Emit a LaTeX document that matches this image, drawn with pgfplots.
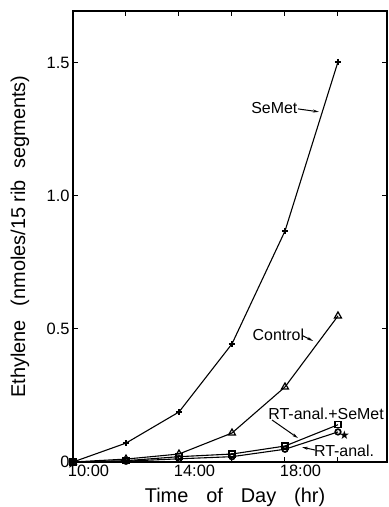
\documentclass[border=0pt]{standalone}
\usepackage{fontspec}
\setmainfont{Liberation Sans}
\newfontfamily\dejavu{DejaVu Sans}
\usepackage{pgfplots}
\pgfplotsset{compat=1.18}
\usetikzlibrary{arrows.meta}
\begin{document}
\begin{tikzpicture}
\path[use as bounding box] (0,0) rectangle (389bp,507bp);
\begin{axis}[
  at={(73bp,45bp)}, anchor=south west,
  scale only axis, width=314bp, height=451bp,
  xmin=10, xmax=21.85, ymin=0, ymax=1.695,
  xtick={10,12,14,16,18,20}, xticklabels={10:00,,14:00,,18:00,},
  ytick={0,0.5,1.0,1.5}, yticklabels={0,0.5,1.0,1.5},
  tick align=inside, major tick length=5bp,
  axis line style={line width=1.3bp},
  tick style={line width=1bp, black},
  ticklabel style={font=\fontsize{16.5}{18}\selectfont},
  xticklabel style={xshift=15.5bp},
  /pgf/number format/assume math mode=true,
  xlabel={Time\hspace{0.9em}of\hspace{0.9em}Day\hspace{0.9em}(hr)},
  ylabel={Ethylene\hspace{0.7em}(nmoles/15 rib\hspace{0.3em} segments)},
  label style={font=\fontsize{20}{22}\selectfont},
  xlabel style={at={(axis description cs:0.516,-0.078)}, anchor=center},
  ylabel style={at={(axis description cs:-0.169,0.5)}, anchor=center},
  every axis plot/.append style={black, line width=1.1bp},
]
\addplot[mark=+, mark size=3bp, mark options={line width=1.4bp}] coordinates {
  (10,0) (12,0.071) (14,0.188) (16,0.444) (18,0.868) (20,1.504)};
\addplot[mark=triangle, mark size=4bp, mark options={line width=1.2bp, fill=white}] coordinates {
  (10,0) (12,0.011) (14,0.03) (16,0.109) (18,0.282) (20,0.549)};
\addplot[mark=square, mark size=3bp, mark options={line width=1.2bp, fill=white}] coordinates {
  (10,0) (12,0.005) (14,0.02) (16,0.03) (18,0.06) (20,0.14)};
\addplot[mark=o, mark size=2.8bp, mark options={line width=1.7bp, fill=white}] coordinates {
  (10,0) (12,0.003) (14,0.012) (16,0.02) (18,0.048) (20,0.113)};
\addplot[only marks, mark=text, text mark={\fontsize{12}{12}\selectfont\dejavu ★}] coordinates {(20.25,0.100)};

\begin{scope}[font=\fontsize{16}{18}\selectfont]
\node at (axis cs:17.60,1.331) {SeMet};
\draw[-{Stealth[length=6bp,width=3bp]}, line width=1bp] (axis cs:18.49,1.327) -- (axis cs:19.28,1.316);
\node at (axis cs:17.75,0.477) {Control};
\draw[-{Stealth[length=6bp,width=3bp]}, line width=1bp] (axis cs:18.68,0.474) -- (axis cs:19.06,0.455);
\node at (axis cs:19.55,0.180) {RT-anal.+SeMet};
\draw[-{Stealth[length=6bp,width=3bp]}, line width=1bp] (axis cs:17.51,0.158) -- (axis cs:18.49,0.09);
\node at (axis cs:20.23,0.042) {RT-anal.};
\draw[-{Stealth[length=6bp,width=3bp]}, line width=1bp] (axis cs:19.13,0.045) -- (axis cs:18.64,0.056);
\end{scope}
\end{axis}
\end{tikzpicture}
\end{document}
